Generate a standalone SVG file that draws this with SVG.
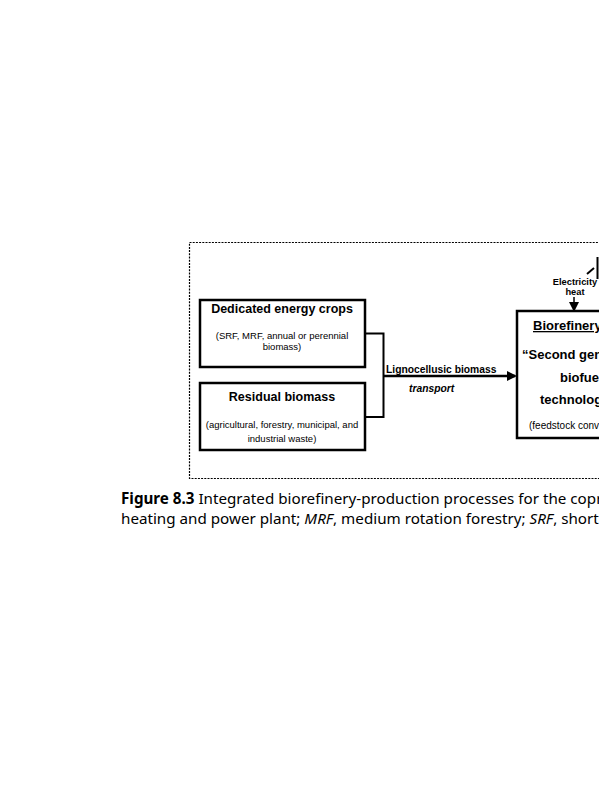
<svg xmlns="http://www.w3.org/2000/svg" width="599" height="800" viewBox="0 0 599 800">
<style>
.box{fill:#fff;stroke:#000;stroke-width:2.5}
.ln{fill:none;stroke:#000;stroke-width:2}
.t{font-family:"Liberation Sans",Arial,sans-serif;fill:#000}
.h{font-size:12.5px;font-weight:bold}
.s{font-size:9.5px}
.b{font-size:13px;font-weight:bold}
.cap{font-family:"Noto Sans","Open Sans",sans-serif;font-size:15.2px;fill:#000}
</style>
<defs>
<marker id="ah" markerWidth="10" markerHeight="10" refX="8" refY="5" orient="auto" markerUnits="userSpaceOnUse">
<path d="M0,0 L10,5 L0,10 Z" fill="#000"/>
</marker>
</defs>
<rect width="599" height="800" fill="#fff"/>
<rect id="frame" x="189.5" y="242.5" width="420" height="236" fill="none" stroke="#000" stroke-width="1.2" stroke-dasharray="2,1.2"/>
<g id="crops">
<rect class="box" x="200" y="300" width="165" height="67"/>
<text class="t h" x="282" y="313" text-anchor="middle">Dedicated energy crops</text>
<text class="t s" x="282" y="339" text-anchor="middle">(SRF, MRF, annual or perennial</text>
<text class="t s" x="282" y="350" text-anchor="middle">biomass)</text>
</g>
<g id="residual">
<rect class="box" x="200" y="383" width="165" height="67"/>
<text class="t h" x="282" y="401" text-anchor="middle">Residual biomass</text>
<text class="t s" x="282" y="428" text-anchor="middle">(agricultural, forestry, municipal, and</text>
<text class="t s" x="282" y="442" text-anchor="middle">industrial waste)</text>
</g>
<g id="biorefinery">
<rect class="box" x="517" y="311" width="100" height="127"/>
<text class="t b" x="533" y="330" text-decoration="underline">Biorefinery</text>
<text class="t b" x="522" y="359">“Second gen</text>
<text class="t b" x="560" y="382">biofue</text>
<text class="t b" x="540" y="404">technolog</text>
<text class="t" x="529" y="429" font-size="10">(feedstock conv</text>
</g>
<g id="energy">
<text class="t" x="575" y="285" font-size="9.3" font-weight="bold" text-anchor="middle">Electricity</text>
<text class="t" x="575" y="295" font-size="9.3" font-weight="bold" text-anchor="middle">heat</text>
</g>
<g id="connectors">
<path class="ln" d="M365,333.5 H383.5 V417 H365"/>
<line x1="383.5" y1="376" x2="515" y2="376" stroke="#000" stroke-width="2.5" marker-end="url(#ah)"/>
<line x1="574" y1="297" x2="574" y2="310" stroke="#000" stroke-width="1.5" marker-end="url(#ah)"/>
<path class="ln" d="M587,274 L594,268" stroke-width="1"/>
<path class="ln" d="M597.5,257 V279" stroke-width="1.5"/>
</g>
<g id="labels">
<text class="t" x="386" y="373" font-size="10.3" font-weight="bold">Lignocellusic biomass</text>
<text class="t" x="409" y="392" font-size="10.3" font-weight="bold" font-style="italic">transport</text>
</g>
<g id="caption">
<text class="cap" x="121" y="504"><tspan font-weight="bold">Figure 8.3</tspan>  Integrated biorefinery-production processes for the copr</text>
<text class="cap" x="121" y="524">heating and power plant; <tspan font-style="italic">MRF</tspan>, medium rotation forestry; <tspan font-style="italic">SRF</tspan>, short</text>
</g>
</svg>
